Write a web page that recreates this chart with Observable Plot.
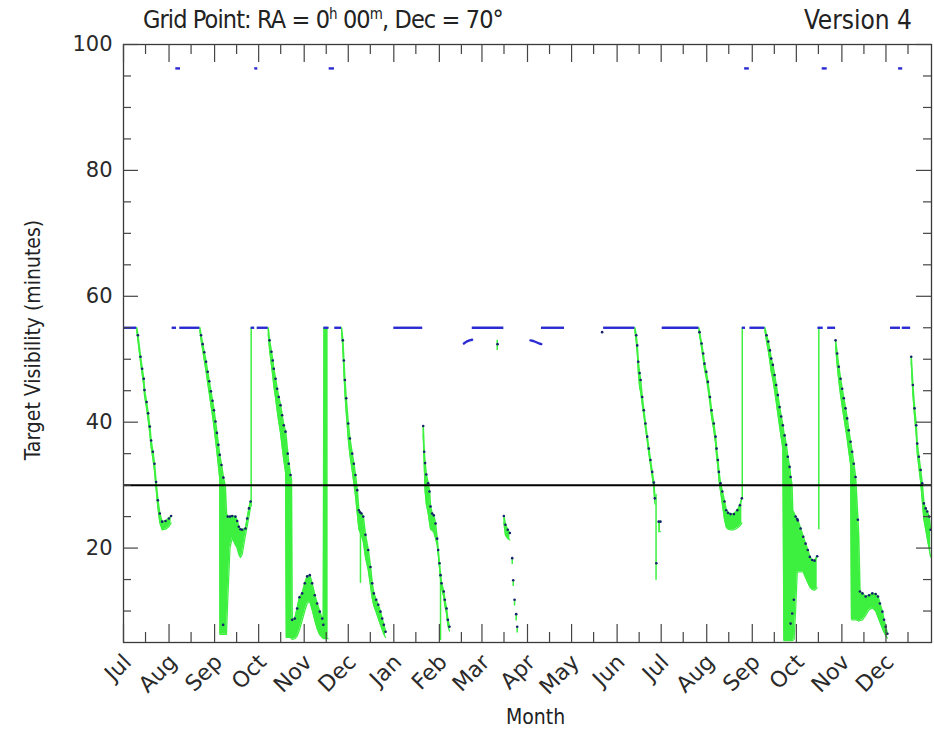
<!DOCTYPE html>
<html>
<head>
<meta charset="utf-8">
<script src="https://cdn.jsdelivr.net/npm/d3@7"></script>
<script src="https://cdn.jsdelivr.net/npm/@observablehq/plot@0.6"></script>
<style>
  body { margin: 0; background: #fff; }
  #wrap { position: relative; width: 934px; height: 732px; background: #fff; }
  .ttl { position: absolute; top: 5px; font-family: "Liberation Sans Narrow", "DejaVu Sans Condensed", "DejaVu Sans", sans-serif; font-size: 25px; color: #222; white-space: nowrap; line-height: 30px; }
  .ttl sup { font-size: 15px; vertical-align: 9px; line-height: 0; }
  .lab { position: absolute; font-family: "Liberation Sans Narrow", "DejaVu Sans Condensed", "DejaVu Sans", sans-serif; font-size: 21px; color: #222; white-space: nowrap; }
</style>
</head>
<body>
<div id="wrap">
  <div class="ttl" style="left:143px; letter-spacing:-0.9px;">Grid Point: RA = 0<sup>h</sup> 00<sup>m</sup>, Dec = 70°</div>
  <div class="ttl" style="right:22px; font-size:26px;">Version 4</div>
  <div class="lab" style="left:506px; top:705px;">Month</div>
  <div class="lab" style="left:33px; top:340px; transform: translate(-50%,-50%) rotate(-90deg); transform-origin: center;">Target Visibility (minutes)</div>
</div>
<script>
// ---------- data (days counted from 1 July of the first year) ----------
const firstDay = [2007, 6, 1];
const lastDay = [2009, 0, 1];

// flat "full visibility" stretches [startDay, endDay]
const flatLevel = 55;
const flatStretches = [[0,9],[33.1,36.1],[38.3,52.0],[86.9,89.3],[91.0,98.5],[136.4,139.8],[143.8,148.4],
  [184.0,203.7],[237.4,258.9],[284.5,300.2],[326.8,348.1],[366.7,391.7],[421.2,423.4],[426.4,436.6],
  [472.7,476.3],[479.3,484.7],[522.1,528.9],[530.1,535.8]];

// short stretches at the top of the chart
const highLevel = 96.2;
const highStretches = [[35.6,38.8],[89.3,91.4],[140.0,143.6],[422.8,426.0],[475.6,479.0],[527.6,530.4]];

// small curved stretches just under the flat level [day, minutes]
const marchArc = [[231.7,52.5],[233.5,52.8],[235.5,53.0],[237.3,53.1]];
const aprilArc = [[277.0,53.0],[279.0,52.9],[281.0,52.7],[283.0,52.5],[284.4,52.4]];

// threshold line
const threshold = 30;

// visibility bands: [day, max minutes (dot), min minutes, showDot]
const julFall = [[9.0,55,54.6,0],[9.8,53.8,53.0],[11.6,50.4,49.5],[12.7,48.5,47.6],[13.8,46.9,45.8],[14.3,45.1,44.2],
  [15.7,43.2,42.2],[16.8,41.4,40.3],[17.9,39.3,38.2],[18.8,37.1,36.0],[20.0,35.3,34.2],[21.1,33.4,32.2],
  [22.2,30.5,29.3],[23.4,27.6,26.4],[24.7,25.5,24.0],[26.3,24.2,22.9],[28.6,24.3,23.0],[30.9,24.7,23.4],[32.4,25.1,24.0]];
const sepFall = [[52.0,55,54.5,0],[52.8,53.8,53.0],[53.9,52.4,51.4],[55.0,51.1,49.8],[56.2,49.6,48.0],[57.3,48.0,46.2],
  [58.4,46.5,44.5],[59.5,44.9,42.7],[60.6,43.4,41.0],[61.6,41.9,39.2],[62.6,40.1,37.2],[63.6,38.3,35.2],
  [64.6,36.4,33.0],[65.5,34.8,31.0],[65.6,34.6,6.3,0],[66.7,33.2,6.3],[68.0,31.2,6.3],[69.2,30.0,6.3,0],
  [70.1,25.5,6.3,0],[71.0,25.0,12.0],[72.5,25.0,20.0],[74.0,25.1,21.6],[76.2,25.0,20.5],[77.4,24.3,20.0],
  [78.5,23.4,19.0],[79.6,23.0,18.5],[80.8,22.9,19.0],[83.0,23.1,22.0],[84.2,24.7,23.5],[85.4,26.3,25.0],[86.5,27.4,26.5]];
const octFall = [[98.5,55,54.0,0],[99.4,53.0,51.5],[100.7,51.2,49.0],[101.6,49.8,47.3],[102.3,48.5,45.8],[103.5,46.9,43.8],
  [104.6,45.3,41.8],[105.7,44.0,40.0],[106.9,42.7,38.2],[108.0,41.1,36.0],[109.1,39.5,34.0],[110.3,38.5,32.0],
  [110.8,37.5,5.8,0],[111.8,35.0,5.8],[112.5,33.4,5.8],[113.7,31.6,5.8],[114.3,31.0,5.6,0],[114.8,8.6,5.5],
  [116.6,8.8,5.6],[118.2,10.4,6.0],[119.8,12.2,7.0],[121.6,12.8,8.5],[123.4,14.4,10.0],[125.0,15.5,11.2],
  [126.8,15.7,11.5],[128.4,14.4,10.2],[130.2,12.5,8.5],[131.8,11.2,7.2],[133.6,9.9,6.2],[135.3,8.8,5.8],
  [136.0,7.8,5.6],[136.5,55,5.6,0],[139.3,55,5.6,0]];
const decFall = [[148.4,55,54.5,0],[149.3,53.0,51.8],[150.0,49.8,48.0],[150.7,46.7,44.6],[151.6,43.8,41.5],[153.0,39.8,37.3],
  [154.1,37.4,34.8],[155.7,35.0,32.2],[156.8,33.4,30.3],[157.9,31.6,28.3],[159.1,29.2,25.5],[160.2,26.0,23.0],
  [161.0,25.7,22.5],[162.0,25.5,22.0],[163.2,25.0,21.0],[164.7,22.1,18.5],[166.6,19.7,16.5],[168.1,17.0,14.0],
  [169.3,14.4,12.0],[170.4,12.8,10.8],[172.0,11.8,9.8],[173.4,11.0,8.8],[174.9,9.9,7.8],[176.1,8.8,7.0],
  [177.2,7.8,6.3],[178.4,6.7,5.8]];
const febFall = [[204.0,39.4,38.0],[204.7,35.3,33.0],[205.3,33.5,29.0],[206.1,31.7,27.0],[207.4,30.3,25.5],
  [208.3,29.0,24.0],[209.0,26.6,23.0],[210.1,25.5,22.8],[211.2,25.2,22.5],[212.4,23.9,21.5],[213.5,21.5,20.5],
  [214.2,19.7,19.0],[215.1,17.6,16.8],[215.8,15.7,15.0],[216.5,14.4,13.6],[218.0,13.1,12.2],[218.7,11.8,10.9],
  [219.9,10.4,9.5],[220.8,8.6,7.7],[221.9,7.5,6.8]];
const aprFall = [[258.9,25.1,24.0],[260.0,23.7,22.0],[261.6,22.9,21.5],[263.0,22.4,21.3]];
const julFall2 = [[348.1,55,54.5,0],[349.0,53.8,52.8],[349.7,52.2,51.0],[350.4,49.6,48.0],[351.3,47.8,45.5],
  [352.0,46.7,44.8],[353.1,44.0,42.8],[354.2,41.9,41.0],[355.3,39.8,39.0],[356.5,37.7,37.0],[357.6,35.8,35.0],
  [358.7,34.0,33.2],[359.9,32.1,31.3],[361.0,30.4,29.5],[361.7,27.9,27.0]];
const julBlock2 = [[364.3,24.2,22.6],[365.5,24.2,22.6]];
const augFall2 = [[391.7,55,54.5,0],[392.1,54.3,53.8],[393.5,52.5,51.8],[394.6,50.9,50.0],[395.5,49.3,48.4],
  [396.7,48.0,47.0],[397.8,46.4,45.4],[399.2,44.0,43.0],[400.3,41.9,40.8],[401.8,39.8,38.7],[403.0,37.7,36.6],
  [403.7,35.8,34.6],[404.6,34.0,32.8],[405.3,32.1,30.8],[406.4,30.3,29.0],[407.6,29.0,27.0],[409.1,27.4,24.5],
  [410.3,26.0,23.3],[411.5,25.6,23.0],[413.2,25.4,22.9],[415.5,25.4,22.9],[417.8,26.0,23.2],[419.6,26.8,23.5],[420.9,27.9,24.0]];
const sepFall2 = [[436.6,55,54.5,0],[437.7,53.8,52.8],[438.9,52.8,51.3],[440.0,51.4,49.6],[440.9,50.1,48.0],
  [442.0,49.1,46.8],[443.2,47.5,45.0],[444.3,45.9,43.2],[445.4,44.3,41.3],[446.6,42.4,39.3],[447.7,40.9,37.5],
  [448.8,39.5,35.8],[449.5,38.3,5.3,0],[450.0,37.9,5.3],[451.1,36.4,5.3],[452.2,34.5,5.3],[453.4,32.9,5.3],
  [454.1,31.3,5.3],[455.0,30.0,5.3,0],[455.5,26.0,5.3,0],[456.5,25.5,5.5,0],[457.5,25.0,10.0],[458.6,24.6,16.0],
  [459.0,24.4,16.2],[460.9,23.1,16.2],[462.7,21.8,16.2],[464.3,20.7,15.3],[465.8,19.7,14.5],[467.2,18.6,13.8],
  [468.8,18.1,13.4],[470.4,18.0,13.3],[472.2,18.7,13.7]];
const novFall2 = [[484.7,53.0,52.0],[485.8,50.9,49.0],[486.9,48.8,46.5],[488.1,46.9,44.3],[489.2,45.3,42.5],
  [490.3,43.8,40.8],[491.5,42.2,39.0],[492.6,40.6,37.3],[493.7,38.7,35.3],[494.9,36.9,33.3],[495.5,36.0,8.8,0],
  [496.0,35.3,8.6],[497.1,33.4,8.6],[498.3,31.3,8.6],[499.9,24.5,8.5],[500.4,22.0,8.4,0],[501.3,13.1,8.5],
  [503.0,12.8,8.6],[505.2,12.3,9.3],[507.5,12.5,10.2],[509.7,12.8,10.5],[512.0,12.7,10.0],[513.6,12.3,9.0],
  [514.9,11.2,8.2],[516.6,9.9,7.2],[517.7,8.6,6.6],[518.8,7.5,6.1],[520.0,6.4,5.7]];
const decFall2 = [[536.2,50.4,49.5],[537.3,45.9,44.5],[538.5,42.2,40.8],[539.6,39.5,38.0],[540.3,36.6,35.0],
  [541.4,34.5,32.8],[542.6,32.4,30.5],[543.7,30.3,27.5],[544.8,27.1,24.5],[546.0,26.3,23.0],[547.1,25.8,21.5],
  [548.3,25.0,20.0],[549.4,22.9,18.6]];

// isolated daily marks [day, max, min]
const aprilTicks = [[264.6,18.4,17.4],[265.3,14.9,13.9],[266.2,11.8,10.8],[267.3,9.5,8.4],[268.0,7.5,6.5]];
// thin single-day spikes [day, min, max]
const spikes = [[86.9,26.5,55],[161.3,14.4,25.5],[215.8,5.3,15.7],[254.4,51.4,53.0],[362.5,14.9,28.5],
  [421.2,27.9,55],[473.3,22.9,55]];
// dots lying below the daily maximum [day, minutes]
const lowDots = [[67.8,7.8],[254.6,52.4],[325.8,54.3],[362.7,17.6],[454.1,8.0],[455.2,9.6],[456.3,11.8]];

// axis ticks
const yMajor = [20, 40, 60, 80, 100];
const yMinor = [10, 15, 25, 30, 35, 45, 50, 55, 65, 70, 75, 85, 90, 95];

// ---------- build ----------
const GREEN = "#3df03f", BLUE = "#2a2ad2", NAVY = "#18206e", INK = "#2a2a2a";
const t0 = Date.UTC(...firstDay);
const at = d => new Date(t0 + d * 864e5);
const tEnd = new Date(Date.UTC(...lastDay));
const monthStarts = d3.utcMonth.range(new Date(t0), tEnd);
const midMonths = monthStarts.map(m => d3.utcDay.offset(m, 15));

const bands = [julFall, sepFall, octFall, decFall, febFall, aprFall, julFall2, julBlock2, augFall2, sepFall2, novFall2, decFall2];
const bandRows = bands.flatMap((s, i) => s.map(r => ({x: at(r[0]), hi: r[1], lo: r[2], dot: r[3] !== 0, seg: i})));
const dotRows = bandRows.filter(r => r.dot).map(r => ({x: r.x, y: r.hi}))
  .concat(aprilTicks.map(r => ({x: at(r[0]), y: r[1]})))
  .concat(lowDots.map(r => ({x: at(r[0]), y: r[1]})));
const ruleRows = spikes.map(r => ({x: at(r[0]), lo: r[1], hi: r[2]}))
  .concat(aprilTicks.map(r => ({x: at(r[0]), lo: r[2], hi: r[1]})));
const flatRows = flatStretches.map(r => ({x1: at(r[0]), x2: at(r[1]), y: flatLevel}))
  .concat(highStretches.map(r => ({x1: at(r[0]), x2: at(r[1]), y: highLevel})));
const arcRows = [marchArc, aprilArc].flatMap((a, i) => a.map(r => ({x: at(r[0]), y: r[1], arc: i})));

const W = 934, H = 732, mL = 123, mR = 3, mT = 44, mB = 90;
const fw = W - mL - mR, fh = H - mT - mB;

const chart = Plot.plot({
  width: W, height: H,
  marginLeft: mL, marginRight: mR, marginTop: mT, marginBottom: mB,
  style: {fontFamily: "'DejaVu Sans', sans-serif", color: INK, background: "transparent", overflow: "visible"},
  x: {type: "utc", domain: [new Date(t0), tEnd]},
  y: {domain: [5, 100]},
  marks: [
    Plot.areaY(bandRows, {x: "x", y1: "lo", y2: "hi", z: "seg", fill: GREEN}),
    Plot.line(bandRows, {x: "x", y: "hi", z: "seg", stroke: GREEN, strokeWidth: 1.6}),
    Plot.line(bandRows, {x: "x", y: "lo", z: "seg", stroke: GREEN, strokeWidth: 1.2}),
    Plot.ruleX(ruleRows, {x: "x", y1: "lo", y2: "hi", stroke: GREEN, strokeWidth: 1.5}),
    Plot.ruleY([threshold], {y: d => d, stroke: "#000", strokeWidth: 2}),
    Plot.ruleY(flatRows, {x1: "x1", x2: "x2", y: "y", stroke: BLUE, strokeWidth: 2.4}),
    Plot.line(arcRows, {x: "x", y: "y", z: "arc", stroke: BLUE, strokeWidth: 2.4}),
    Plot.dot(dotRows, {x: "x", y: "y", r: 1.3, fill: NAVY}),
    Plot.frame({stroke: "#3a3a3a", strokeWidth: 1.3}),
    // inward ticks on all four sides
    Plot.tickY(yMajor, {y: d => d, insetRight: fw - 15, stroke: "#444", strokeWidth: 1.2}),
    Plot.tickY(yMinor, {y: d => d, insetRight: fw - 8, stroke: "#444", strokeWidth: 1.2}),
    Plot.tickY(yMajor, {y: d => d, insetLeft: fw - 15, stroke: "#444", strokeWidth: 1.2}),
    Plot.tickY(yMinor, {y: d => d, insetLeft: fw - 8, stroke: "#444", strokeWidth: 1.2}),
    Plot.tickX(monthStarts, {x: d => d, insetTop: fh - 18, stroke: "#444", strokeWidth: 1.2}),
    Plot.tickX(midMonths, {x: d => d, insetTop: fh - 10, stroke: "#444", strokeWidth: 1.2}),
    Plot.tickX(monthStarts, {x: d => d, insetBottom: fh - 18, stroke: "#444", strokeWidth: 1.2}),
    Plot.tickX(midMonths, {x: d => d, insetBottom: fh - 10, stroke: "#444", strokeWidth: 1.2}),
    Plot.axisY({ticks: yMajor, tickSize: 0, tickPadding: 11, label: null, fontSize: 21, fill: INK}),
    Plot.axisX({ticks: monthStarts, tickFormat: d3.utcFormat("%b"), tickRotate: -45, tickSize: 0,
      tickPadding: 16, label: null, fontSize: 22, fill: INK, dx: 4})
  ]
});
chart.style.position = "absolute";
chart.style.left = "0px";
chart.style.top = "0px";
document.getElementById("wrap").prepend(chart);
</script>
</body>
</html>
